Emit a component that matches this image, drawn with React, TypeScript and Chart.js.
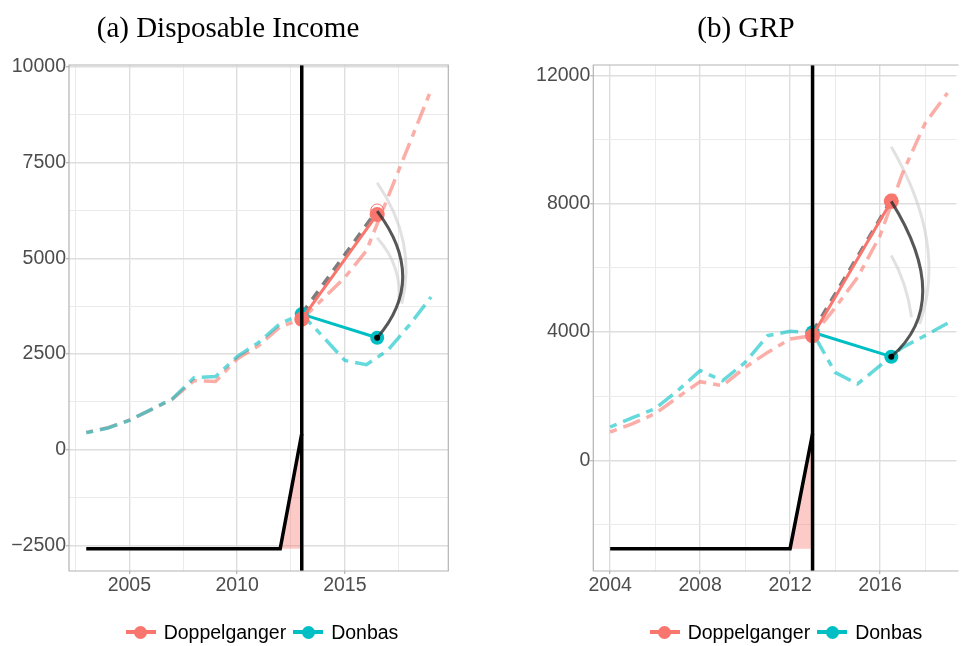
import React, { useEffect, useRef } from 'react';
import { Chart, registerables } from 'chart.js';

Chart.register(...registerables);

// ---------------- data: panel (a) Disposable Income ----------------
const YEARS_A = [2003, 2004, 2005, 2006, 2007, 2008, 2009, 2010, 2011, 2012, 2013, 2014, 2015, 2016, 2017, 2018, 2019];
const DOPPEL_A = [450, 570, 770, 1040, 1320, 1800, 1780, 2370, 2716, 3211, 3411, 3950, 4500, 5200, 6600, 8000, 9400];
const DONBAS_A = [443, 565, 766, 1044, 1331, 1880, 1910, 2430, 2803, 3297, 3542, 2940, 2330, 2220, 2600, 3260, 3990];
const FIT_YEARS_A = [2003, 2004, 2005, 2006, 2007, 2008, 2009, 2010, 2011, 2012, 2013];
const FIT_A = [-2590, -2590, -2590, -2590, -2590, -2590, -2590, -2590, -2590, -2590, 420];
const SEG_DOPPEL_A = [3411, 6146];
const SEG_DONBAS_A = [3542, 2925];
const CF_A = [3542, 6250];
const HOLLOW_A = 6250;
// curves: start, bend (control) and end point
const ARC_X_A = [2016.5, 2018.87, 2016.5];
const ARC_Y_A = [6232, 4463, 2925];
const OUTER_X_A = [2016.5, 2018.36, 2017.64];
const OUTER_Y_A = [6974, 5438, 3815];
const INNER_X_A = [2016.5, 2017.7, 2017.49];
const INNER_Y_A = [5536, 4769, 3815];
const X_TICKS_A = [2002.5, 2005, 2007.5, 2010, 2012.5, 2015, 2017.5];
const X_LABELS_A = [2005, 2010, 2015];
const Y_TICKS_A = [-2500, -1250, 0, 1250, 2500, 3750, 5000, 6250, 7500, 8750, 10000];
const Y_LABELS_A = [-2500, 0, 2500, 5000, 7500, 10000];

// ---------------- data: panel (b) GRP ----------------
const YEARS_B = [2004, 2005, 2006, 2007, 2008, 2009, 2010, 2011, 2012, 2013, 2014, 2015, 2016, 2017, 2018, 2019];
const DOPPEL_B = [882, 1143, 1455, 1962, 2451, 2327, 2895, 3364, 3782, 3885, 4750, 5700, 7000, 8950, 10500, 11450];
const DONBAS_B = [1038, 1331, 1612, 2170, 2794, 2482, 3052, 3885, 4020, 3990, 2740, 2380, 2950, 3520, 3885, 4270];
const FIT_YEARS_B = [2004, 2005, 2006, 2007, 2008, 2009, 2010, 2011, 2012, 2013];
const FIT_B = [-2753, -2753, -2753, -2753, -2753, -2753, -2753, -2753, -2753, 832];
const SEG_DOPPEL_B = [3885, 8071];
const SEG_DONBAS_B = [3990, 3230];
const CF_B = [3990, 8100];
const HOLLOW_B = 8100;
const ARC_X_B = [2016.5, 2019.3, 2016.5];
const ARC_Y_B = [8071, 4924, 3230];
const OUTER_X_B = [2016.5, 2019.01, 2017.76];
const OUTER_Y_B = [9776, 6749, 4250];
const INNER_X_B = [2016.5, 2017.2, 2017.4];
const INNER_Y_B = [6380, 5518, 4456];
const X_TICKS_B = [2004, 2006, 2008, 2010, 2012, 2014, 2016, 2018];
const X_LABELS_B = [2004, 2008, 2012, 2016];
const Y_TICKS_B = [-2000, 0, 2000, 4000, 6000, 8000, 10000, 12000];
const Y_LABELS_B = [0, 4000, 8000, 12000];

const TREAT_YEAR = 2013;
const END_YEAR = 2016.5;
const SERIES = ['Doppelganger', 'Donbas'];

// ---------------- styles ----------------
const PINK = '#F8766D';
const TEAL = '#00BFC4';
const PINK_T = 'rgba(248,118,109,0.6)';
const TEAL_T = 'rgba(0,191,196,0.6)';
const LIGHT_ARC = 'rgba(200,200,200,0.55)';
const DARK_ARC = 'rgba(45,45,45,0.8)';
const SANS = "'Liberation Sans', Arial, sans-serif";
const SERIF = "'Liberation Serif', 'Times New Roman', serif";

type Panel = {
  years: number[]; doppel: number[]; donbas: number[];
  fitYears: number[]; fit: number[];
  segDoppel: number[]; segDonbas: number[]; cf: number[]; hollow: number;
  arcX: number[]; arcY: number[]; outerX: number[]; outerY: number[]; innerX: number[]; innerY: number[];
  xTicks: number[]; xLabels: number[]; yTicks: number[]; yLabels: number[];
  xMin: number; xMax: number; yMin: number; yMax: number;
  axisW: number; padRight: number; rightBorder: boolean;
};

const PANEL_A: Panel = {
  years: YEARS_A, doppel: DOPPEL_A, donbas: DONBAS_A, fitYears: FIT_YEARS_A, fit: FIT_A,
  segDoppel: SEG_DOPPEL_A, segDonbas: SEG_DONBAS_A, cf: CF_A, hollow: HOLLOW_A,
  arcX: ARC_X_A, arcY: ARC_Y_A, outerX: OUTER_X_A, outerY: OUTER_Y_A, innerX: INNER_X_A, innerY: INNER_Y_A,
  xTicks: X_TICKS_A, xLabels: X_LABELS_A, yTicks: Y_TICKS_A, yLabels: Y_LABELS_A,
  xMin: 2002.2, xMax: 2019.8, yMin: -3172, yMax: 10052,
  axisW: 69, padRight: 33.7, rightBorder: true,
};

const PANEL_B: Panel = {
  years: YEARS_B, doppel: DOPPEL_B, donbas: DONBAS_B, fitYears: FIT_YEARS_B, fit: FIT_B,
  segDoppel: SEG_DOPPEL_B, segDonbas: SEG_DONBAS_B, cf: CF_B, hollow: HOLLOW_B,
  arcX: ARC_X_B, arcY: ARC_Y_B, outerX: OUTER_X_B, outerY: OUTER_Y_B, innerX: INNER_X_B, innerY: INNER_Y_B,
  xTicks: X_TICKS_B, xLabels: X_LABELS_B, yTicks: Y_TICKS_B, yLabels: Y_LABELS_B,
  xMin: 2003.25, xMax: 2019.4, yMin: -3450, yMax: 12321,
  axisW: 111.3, padRight: 0, rightBorder: false,
};

const W = 482;
const H = 646;

function pts(xs: number[], ys: number[]) {
  return xs.map((x, i) => ({ x, y: ys[i] }));
}

function fmt(v: number) {
  return v < 0 ? '\u2212' + Math.abs(v) : String(v);
}

function buildDatasets(p: Panel) {
  const seg = [TREAT_YEAR, END_YEAR];
  const list: any[] = [
    { data: pts(p.fitYears, p.fit), borderColor: '#000', borderWidth: 3.5, fill: { value: p.fit[0] }, backgroundColor: 'rgba(248,118,109,0.38)', borderJoinStyle: 'miter' },
    { data: pts(p.years, p.doppel), borderColor: PINK_T, borderWidth: 3.5, borderDash: [7, 7, 18, 7] },
    { data: pts(p.years, p.donbas), borderColor: TEAL_T, borderWidth: 3.5, borderDash: [7, 7, 18, 7] },
    { data: pts(seg, p.cf), borderColor: 'rgba(70,70,70,0.7)', borderWidth: 4, borderDash: [10, 8] },
    { data: pts(seg, p.segDonbas), borderColor: TEAL, borderWidth: 3, pointRadius: 7, pointBackgroundColor: TEAL, pointBorderWidth: 0 },
    { data: pts(seg, p.segDoppel), borderColor: PINK, borderWidth: 3, pointRadius: 7.5, pointBackgroundColor: PINK, pointBorderWidth: 0 },
    { data: pts([END_YEAR], [p.hollow]), showLine: false, pointRadius: 6.5, pointBorderColor: PINK, pointBorderWidth: 1, pointBackgroundColor: 'rgba(0,0,0,0)' },
  ];
  return list.map((d, i) => ({
    pointRadius: 0,
    tension: 0,
    ...d,
    fill: d.fill ?? false,
    order: list.length - i,
  }));
}

function drawCurve(chart: any, xs: number[], ys: number[], color: string, width: number) {
  const { ctx, scales } = chart;
  const px = xs.map((v) => scales.x.getPixelForValue(v));
  const py = ys.map((v) => scales.y.getPixelForValue(v));
  ctx.save();
  ctx.strokeStyle = color;
  ctx.lineWidth = width;
  ctx.lineCap = 'butt';
  ctx.beginPath();
  ctx.moveTo(px[0], py[0]);
  ctx.quadraticCurveTo(px[1], py[1], px[2], py[2]);
  ctx.stroke();
  ctx.restore();
}

function dot(chart: any, x: number, y: number, r: number, color: string) {
  const { ctx, scales } = chart;
  ctx.save();
  ctx.fillStyle = color;
  ctx.beginPath();
  ctx.arc(scales.x.getPixelForValue(x), scales.y.getPixelForValue(y), r, 0, Math.PI * 2);
  ctx.fill();
  ctx.restore();
}

function decorPlugin(p: Panel) {
  return {
    id: 'decor',
    beforeDatasetsDraw(chart: any) {
      drawCurve(chart, p.outerX, p.outerY, LIGHT_ARC, 3);
      drawCurve(chart, p.innerX, p.innerY, LIGHT_ARC, 3);
    },
    afterDatasetsDraw(chart: any) {
      drawCurve(chart, p.arcX, p.arcY, DARK_ARC, 3);
      dot(chart, END_YEAR, p.segDonbas[1], 3, '#000');
      const { ctx, chartArea, scales } = chart;
      const x = scales.x.getPixelForValue(TREAT_YEAR);
      ctx.save();
      ctx.strokeStyle = '#000';
      ctx.lineWidth = 3.5;
      ctx.beginPath();
      ctx.moveTo(x, chartArea.top);
      ctx.lineTo(x, chartArea.bottom);
      ctx.stroke();
      ctx.restore();
    },
    afterDraw(chart: any) {
      const { ctx, chartArea: a } = chart;
      ctx.save();
      ctx.strokeStyle = '#b3b3b3';
      ctx.lineWidth = 1.2;
      ctx.beginPath();
      if (p.rightBorder) {
        ctx.rect(a.left, a.top, a.right - a.left, a.bottom - a.top);
      } else {
        ctx.moveTo(a.right + 2, a.top);
        ctx.lineTo(a.left, a.top);
        ctx.lineTo(a.left, a.bottom);
        ctx.lineTo(a.right + 2, a.bottom);
      }
      ctx.stroke();
      ctx.restore();
    },
  };
}

function buildConfig(p: Panel): any {
  const tickFont = { family: SANS, size: 19.5 };
  const gridFor = (labels: number[]) => ({
    color: (c: any) => (labels.includes(c.tick?.value) ? '#dedede' : '#ebebeb'),
    lineWidth: (c: any) => (labels.includes(c.tick?.value) ? 1.4 : 1),
    tickColor: (c: any) => (labels.includes(c.tick?.value) ? '#b3b3b3' : 'rgba(0,0,0,0)'),
    tickLength: 3,
    tickWidth: 1.2,
    drawTicks: true,
  });
  return {
    type: 'line',
    data: { datasets: buildDatasets(p) },
    plugins: [decorPlugin(p)],
    options: {
      animation: false,
      responsive: false,
      maintainAspectRatio: false,
      events: [],
      layout: { padding: { left: 0, right: p.padRight, top: 65, bottom: 45 } },
      plugins: { legend: { display: false }, title: { display: false }, tooltip: { enabled: false } },
      scales: {
        x: {
          type: 'linear',
          min: p.xMin,
          max: p.xMax,
          afterBuildTicks: (s: any) => { s.ticks = p.xTicks.map((v) => ({ value: v })); },
          afterFit: (s: any) => { s.height = 30; },
          ticks: {
            autoSkip: false, maxRotation: 0, padding: 0, font: tickFont, color: '#4d4d4d',
            callback: (v: number) => (p.xLabels.includes(v) ? String(v) : ''),
          },
          grid: gridFor(p.xLabels),
          border: { display: false },
        },
        y: {
          type: 'linear',
          min: p.yMin,
          max: p.yMax,
          afterBuildTicks: (s: any) => { s.ticks = p.yTicks.map((v) => ({ value: v })); },
          afterFit: (s: any) => { s.width = p.axisW; },
          ticks: {
            autoSkip: false, padding: 0, font: tickFont, color: '#4d4d4d',
            callback: (v: number) => (p.yLabels.includes(v) ? fmt(v) : ''),
          },
          grid: gridFor(p.yLabels),
          border: { display: false },
        },
      },
    },
  };
}

function PanelChart({ panel, left }: { panel: Panel; left: number }) {
  const ref = useRef<HTMLCanvasElement | null>(null);
  useEffect(() => {
    if (!ref.current) return;
    const chart = new Chart(ref.current, buildConfig(panel));
    return () => chart.destroy();
  }, [panel]);
  return (
    <canvas
      ref={ref}
      width={W}
      height={H}
      style={{ position: 'absolute', left, top: 0, width: W, height: H }}
    />
  );
}

function Symbol({ color }: { color: string }) {
  return (
    <span style={{ display: 'inline-block', position: 'relative', width: 30, height: 14 }}>
      <span style={{ position: 'absolute', left: 0, top: 5, width: 30, height: 4, background: color }} />
      <span style={{ position: 'absolute', left: 8.5, top: 0.5, width: 13, height: 13, borderRadius: '50%', background: color }} />
    </span>
  );
}

function Legend({ center }: { center: number }) {
  const colors = [PINK, TEAL];
  return (
    <div
      style={{
        position: 'absolute', left: center - 200, width: 400, top: 619, height: 26,
        display: 'flex', justifyContent: 'center', alignItems: 'center',
        fontFamily: SANS, fontSize: 19.5, color: '#000', whiteSpace: 'nowrap',
      }}
    >
      {SERIES.map((s, i) => (
        <span key={s} style={{ display: 'inline-flex', alignItems: 'center', marginRight: i === 0 ? 7 : 0 }}>
          <Symbol color={colors[i]} />
          <span style={{ marginLeft: 8 }}>{s}</span>
        </span>
      ))}
    </div>
  );
}

function Title({ text, center }: { text: string; center: number }) {
  return (
    <div
      style={{
        position: 'absolute', left: center - 250, width: 500, top: 13, height: 28,
        lineHeight: '28px', textAlign: 'center', fontFamily: SERIF, fontSize: 29, color: '#000',
        whiteSpace: 'nowrap',
      }}
    >
      {text}
    </div>
  );
}

export default function App() {
  return (
    <div style={{ position: 'absolute', left: 0, top: 0, width: 964, height: 646, background: '#fff', overflow: 'hidden' }}>
      <PanelChart panel={PANEL_A} left={0} />
      <PanelChart panel={PANEL_B} left={W} />
      <Title text="(a) Disposable Income" center={228} />
      <Title text="(b) GRP" center={746} />
      <Legend center={262} />
      <Legend center={786} />
    </div>
  );
}
